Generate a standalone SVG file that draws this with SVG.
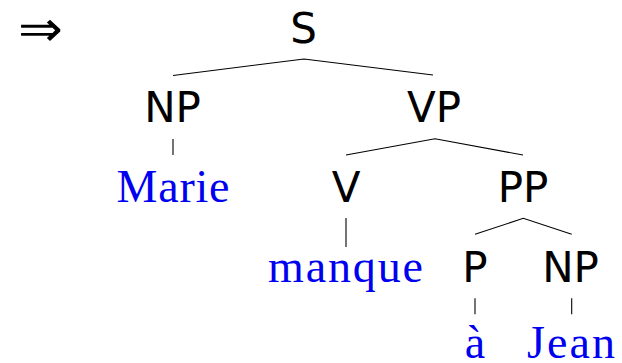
<svg xmlns="http://www.w3.org/2000/svg" width="622" height="363" viewBox="0 0 622 363">
<style>
.cat{font-family:"DejaVu Sans","Liberation Sans",sans-serif;font-size:42px;fill:#000;text-anchor:middle}
.word{font-family:"Liberation Serif","DejaVu Serif",serif;font-size:46px;fill:#0000f0;text-anchor:middle}
.edge{stroke:#000;stroke-width:1.1;fill:none}
</style>
<rect width="622" height="363" fill="#fff"/>
<text id="arrow" x="40.5" y="46" font-family="DejaVu Sans, sans-serif" font-weight="200" font-size="50" text-anchor="middle" textLength="45" lengthAdjust="spacingAndGlyphs">⇒</text>
<g id="connectors">
<polyline class="edge" points="173,75.5 304,59 433,75"/>
<line class="edge" x1="173" y1="139" x2="173" y2="155"/>
<polyline class="edge" points="346,155 435,138.7 523,155"/>
<line class="edge" x1="346" y1="218" x2="346" y2="247"/>
<polyline class="edge" points="475,234.3 523.3,218.3 571.7,234.3"/>
<line class="edge" x1="475" y1="298.3" x2="475" y2="314.3"/>
<line class="edge" x1="571.7" y1="298.3" x2="571.7" y2="314.3"/>
</g>
<g id="S"><text class="cat" x="303.5" y="43">S</text></g>
<g id="NP1"><text class="cat" x="172.5" y="122">NP</text></g>
<g id="VP"><text class="cat" x="434" y="122">VP</text></g>
<g id="Marie"><text class="word" x="173" y="202" textLength="113">Marie</text></g>
<g id="V"><text class="cat" x="346" y="202">V</text></g>
<g id="PP"><text class="cat" x="523" y="202">PP</text></g>
<g id="manque"><text class="word" x="345.5" y="282" textLength="155">manque</text></g>
<g id="P"><text class="cat" x="475" y="282">P</text></g>
<g id="NP2"><text class="cat" x="570.5" y="282">NP</text></g>
<g id="a"><text class="word" x="475" y="358">à</text></g>
<g id="Jean"><text class="word" x="571" y="358" textLength="88">Jean</text></g>
</svg>
